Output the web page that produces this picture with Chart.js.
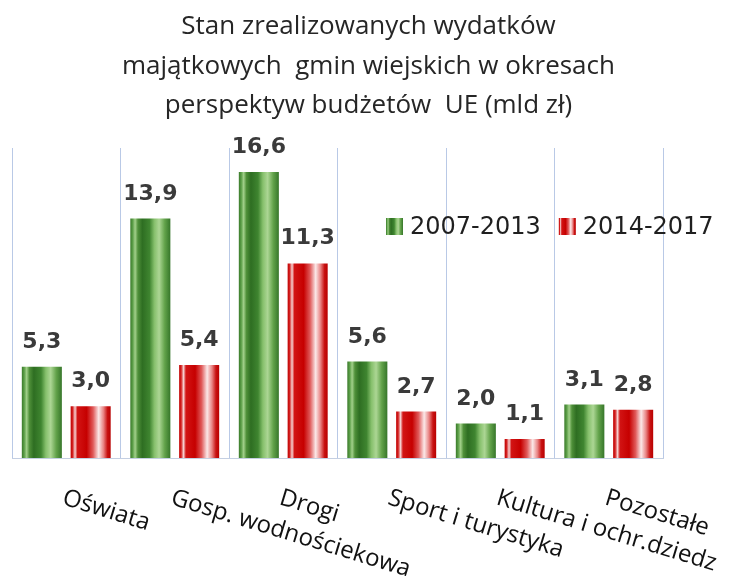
<!DOCTYPE html>
<html>
<head>
<meta charset="utf-8">
<script src="https://cdn.jsdelivr.net/npm/chart.js@4/dist/chart.umd.min.js"></script>
<style>
  html, body { margin: 0; padding: 0; background: #fff; }
  #wrap { width: 737px; height: 582px; }
</style>
</head>
<body>
<div id="wrap"><canvas id="myChart" width="737" height="582"></canvas></div>
<script>
const titleLines = [
    'Stan zrealizowanych wydatków',
    'majątkowych  gmin wiejskich w okresach',
    'perspektyw budżetów  UE (mld zł)'
];
const categories = ['Oświata', 'Gosp. wodnościekowa', 'Drogi', 'Sport i turystyka', 'Kultura i ochr.dziedz', 'Pozostałe'];
const seriesNames = ['2007-2013', '2014-2017'];
const values2007 = [5.3, 13.9, 16.6, 5.6, 2.0, 3.1];
const values2014 = [3.0, 5.4, 11.3, 2.7, 1.1, 2.8];

const CAT_PCT = 0.9;
const BAR_PCT = 0.82;

// cylinder-like shading, left to right
const greenStops = [
    [0, '#3a7a2a'], [0.06, '#5c9f48'], [0.12, '#a2d08a'], [0.19, '#4f9039'],
    [0.3, '#2e6e22'], [0.48, '#3f8530'], [0.6, '#86c06c'], [0.72, '#acd694'],
    [0.86, '#62a24a'], [1, '#36762a']
];
const redStops = [
    [0, '#c00000'], [0.05, '#d42222'], [0.11, '#f6d2d2'], [0.17, '#d21414'],
    [0.4, '#c60000'], [0.56, '#e05a5a'], [0.7, '#fbe8e8'], [0.82, '#e98484'],
    [0.92, '#c81212'], [1, '#b80000']
];

function fillGradient(ctx2d, x0, x1, stops) {
    const g = ctx2d.createLinearGradient(x0, 0, x1, 0);
    stops.forEach(s => g.addColorStop(s[0], s[1]));
    return g;
}

function barFill(stops) {
    return function (context) {
        const chart = context.chart;
        const xs = chart.scales.x;
        if (!xs || context.type !== 'data') return stops[2][1];
        const catW = xs.width / categories.length;
        const slot = catW * CAT_PCT / 2;
        const w = slot * BAR_PCT;
        const cx = xs.getPixelForValue(context.dataIndex) + (context.datasetIndex - 0.5) * slot;
        if (!isFinite(cx) || !isFinite(w) || w <= 0) return stops[2][1];
        return fillGradient(chart.ctx, cx - w / 2, cx + w / 2, stops);
    };
}

const fmt = v => v.toFixed(1).replace('.', ',');

const decor = {
    id: 'decor',
    afterDraw(chart) {
        const c = chart.ctx;
        const area = chart.chartArea;
        c.save();

        // title
        c.fillStyle = '#262626';
        c.font = '26px "Open Sans"';
        c.textAlign = 'center';
        c.textBaseline = 'alphabetic';
        const base = [34, 74, 113];
        titleLines.forEach((t, i) => c.fillText(t, chart.width / 2, base[i]));

        // data labels
        c.font = 'bold 22px "DejaVu Sans"';
        c.fillStyle = '#3a3a3a';
        chart.data.datasets.forEach((ds, di) => {
            chart.getDatasetMeta(di).data.forEach((bar, i) => {
                c.fillText(fmt(ds.data[i]), bar.x, bar.y - 19);
            });
        });

        // category labels, rotated clockwise
        const xs = chart.scales.x;
        const ang = 17 * Math.PI / 180;
        c.font = '24px "Open Sans"';
        c.fillStyle = '#111';
        c.textAlign = 'left';
        categories.forEach((lab, i) => {
            const px = xs.getPixelForValue(i);
            c.save();
            c.translate(px - 5, area.bottom + 46);
            c.rotate(ang);
            c.fillText(lab, 0, 0);
            c.restore();
        });

        // legend
        c.font = '24px "DejaVu Sans"';
        c.textBaseline = 'middle';
        let lx = 386;
        const ly = 218, box = 17;
        [greenStops, redStops].forEach((stops, i) => {
            c.fillStyle = fillGradient(c, lx, lx + box, stops);
            c.fillRect(lx, ly, box, box);
            lx += box + 7;
            c.fillStyle = '#1f1f1f';
            c.fillText(seriesNames[i], lx, ly + box / 2 + 1);
            lx += c.measureText(seriesNames[i]).width + 18;
        });

        c.restore();
    }
};

const ctx = document.getElementById('myChart').getContext('2d');
new Chart(ctx, {
    type: 'bar',
    data: {
        labels: categories,
        datasets: [{
            label: seriesNames[0],
            data: values2007,
            backgroundColor: barFill(greenStops),
            borderWidth: 0
        }, {
            label: seriesNames[1],
            data: values2014,
            backgroundColor: barFill(redStops),
            borderWidth: 0
        }]
    },
    options: {
        responsive: false,
        animation: false,
        categoryPercentage: CAT_PCT,
        barPercentage: BAR_PCT,
        layout: {
            padding: { left: 12, right: 74, top: 148, bottom: 124 }
        },
        plugins: {
            legend: { display: false },
            title: { display: false },
            tooltip: { enabled: false }
        },
        scales: {
            x: {
                grid: { color: '#b9c9e6', lineWidth: 1, drawTicks: false, offset: true },
                border: { color: '#c4cfe2', width: 1 },
                ticks: { display: false }
            },
            y: {
                display: false,
                min: 0,
                max: 18
            }
        }
    },
    plugins: [decor]
});
</script>
</body>
</html>
